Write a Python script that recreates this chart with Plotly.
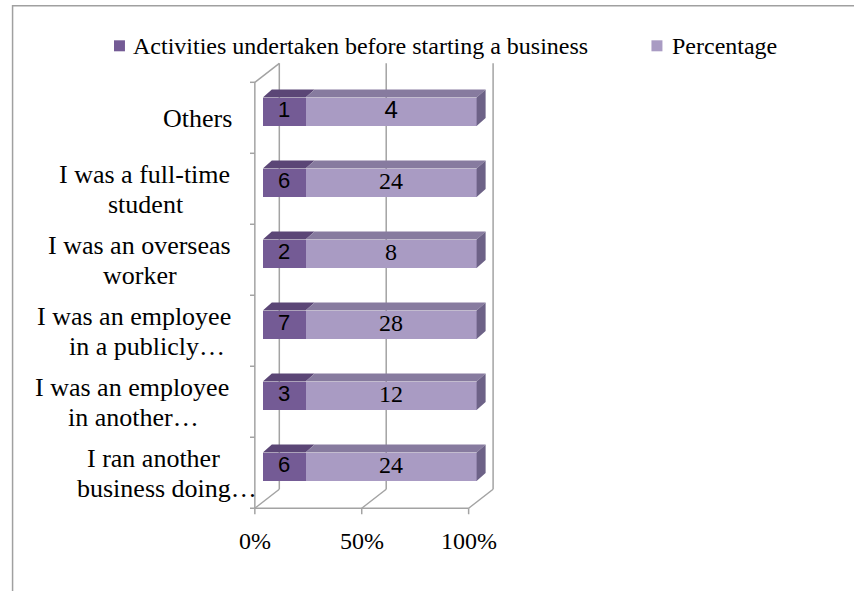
import plotly.graph_objects as go

# ---------------- data ----------------
category_lines = [
    ["Others"],
    ["I was a full-time", "student"],
    ["I was an overseas", "worker"],
    ["I was an employee", "in a publicly…"],
    ["I was an employee", "in another…"],
    ["I ran another", "business doing…"],
]
counts = [1, 6, 2, 7, 3, 6]
percentages = [4, 24, 8, 28, 12, 24]
series_names = ["Activities undertaken before starting a business", "Percentage"]
x_ticks = [0, 50, 100]
x_tick_labels = ["0%", "50%", "100%"]
light_label_fonts = ["Liberation Sans", "Liberation Serif", "Liberation Serif",
                     "Liberation Serif", "Liberation Serif", "Liberation Serif"]

# ---------------- geometry (layout only) ----------------
W, H = 854, 591
PXX = 2.14          # px per percent on bar plane
PXY = 71.0          # px per category
BAR0_PX = 263.0     # pixel x of 0% on bar plane
TOPC_PX = 111.5     # pixel y of top category centre on bar plane
XR = [-6, 110]
YR = [-0.75, 5.8]
L = BAR0_PX + XR[0] * PXX
PW = (XR[1] - XR[0]) * PXX
R = W - L - PW
T = TOPC_PX - (YR[1] - 5) * PXY
PH = (YR[1] - YR[0]) * PXY
B = H - T - PH

def dx(px):
    return px / PXX

def dy(px):
    return px / PXY

def pxp(px):
    return (px - L) / PW

def pyp(py):
    return 1 - (py - T) / PH

FX, FY = dx(-8), dy(-6)      # front plane offset
BX, BY = dx(16.5), dy(13)    # back plane offset
DX, DY = dx(9), dy(8)        # bar depth
HALF = 0.2                   # half bar thickness (categories)

GRID = "#A3A3A3"
DARK_FRONT, DARK_TOP = "#745B95", "#5B4676"
LIGHT_FRONT, LIGHT_TOP, LIGHT_SIDE = "#A99BC3", "#877B9F", "#6D6287"

n = len(counts)
ypos = [n - 1 - i for i in range(n)]
totals = [c + p for c, p in zip(counts, percentages)]
dark_share = [c / t * 100 for c, t in zip(counts, totals)]
light_share = [p / t * 100 for p, t in zip(percentages, totals)]

fig = go.Figure()

# front faces
fig.add_trace(go.Bar(orientation="h", y=ypos, x=dark_share, width=2 * HALF,
                     marker=dict(color=DARK_FRONT, line=dict(width=0)),
                     name=series_names[0], showlegend=False, hoverinfo="skip"))
fig.add_trace(go.Bar(orientation="h", y=ypos, x=light_share, width=2 * HALF,
                     marker=dict(color=LIGHT_FRONT, line=dict(width=0)),
                     name=series_names[1], showlegend=False, hoverinfo="skip"))

# 3D faces
def faces(kind):
    xs, ys = [], []
    for y, s in zip(ypos, dark_share):
        yt, yb = y + HALF, y - HALF
        if kind == "dark_top":
            pts = [(0, yt), (s, yt), (s + DX, yt + DY), (DX, yt + DY)]
        elif kind == "light_top":
            pts = [(s, yt), (100, yt), (100 + DX, yt + DY), (s + DX, yt + DY)]
        else:
            pts = [(100, yb), (100, yt), (100 + DX, yt + DY), (100 + DX, yb + DY)]
        for px_, py_ in pts + [pts[0]]:
            xs.append(px_)
            ys.append(py_)
        xs.append(None)
        ys.append(None)
    return xs, ys

for kind, col in [("dark_top", DARK_TOP), ("light_top", LIGHT_TOP), ("light_side", LIGHT_SIDE)]:
    xs, ys = faces(kind)
    fig.add_trace(go.Scatter(x=xs, y=ys, mode="lines", fill="toself", fillcolor=col,
                             line=dict(width=0, color=col), showlegend=False,
                             hoverinfo="skip"))

# data labels
fig.add_trace(go.Scatter(x=[s / 2 for s in dark_share], y=ypos, mode="text",
                         text=[str(c) for c in counts],
                         textfont=dict(family="Liberation Sans", size=22, color="#000000"),
                         showlegend=False, hoverinfo="skip", cliponaxis=False))
fig.add_trace(go.Scatter(x=[(s + 100) / 2 for s in dark_share], y=ypos, mode="text",
                         text=[str(p) for p in percentages],
                         textfont=dict(family=light_label_fonts, size=24, color="#000000"),
                         showlegend=False, hoverinfo="skip", cliponaxis=False))

shapes = []
def seg(x0, y0, x1, y1):
    shapes.append(dict(type="line", xref="x", yref="y", x0=x0, y0=y0, x1=x1, y1=y1,
                       line=dict(color=GRID, width=1.5), layer="below"))

ybot, ytop = -0.5, n - 0.5
# back wall gridlines
for v in x_ticks:
    seg(v + BX, ybot + BY, v + BX, ytop + BY)
# left wall
seg(FX, ybot + FY, FX, ytop + FY)
seg(FX, ytop + FY, BX, ytop + BY)
for k in range(n + 1):
    seg(FX - dx(8), k - 0.5 + FY, FX, k - 0.5 + FY)
# floor
seg(FX, ybot + FY, 100 + FX, ybot + FY)
for v in x_ticks:
    seg(v + FX, ybot + FY, v + FX, ybot + FY - dy(6))
    seg(v + FX, ybot + FY, v + BX, ybot + BY)

# chart border
shapes.append(dict(type="rect", xref="paper", yref="paper",
                   x0=pxp(12.5), y0=pyp(5.5), x1=pxp(W + 40), y1=pyp(H + 40),
                   line=dict(color="#A0A0A0", width=1.5), layer="below"))

# legend markers
for (x0, x1), col in [((114, 125), DARK_FRONT), ((652, 663), LIGHT_FRONT)]:
    shapes.append(dict(type="rect", xref="paper", yref="paper",
                       x0=pxp(x0), x1=pxp(x1), y0=pyp(40), y1=pyp(51),
                       fillcolor=col, line=dict(width=0)))

annotations = []
serif = "Liberation Serif"
# legend texts
for name, xpx in zip(series_names, [131, 671]):
    annotations.append(dict(xref="paper", yref="paper", x=pxp(xpx), y=pyp(45.5),
                            text=name, showarrow=False, xanchor="left", yanchor="middle",
                            font=dict(family=serif, size=24, color="#000000")))
# x tick labels
for v, lab in zip(x_ticks, x_tick_labels):
    annotations.append(dict(xref="x", yref="y", x=v + FX, y=ybot + FY, yshift=-33,
                            text=lab, showarrow=False, xanchor="center", yanchor="middle",
                            font=dict(family=serif, size=24, color="#000000")))
# category labels (wrapped, centred lines)
line_centres = [[197.5], [145, 146], [139.5, 140], [133.7, 146.7], [132.5, 133.5], [154, 167.5]]
for i, lines in enumerate(category_lines):
    cy = TOPC_PX + i * PXY + 6
    if len(lines) == 1:
        offs = [1]
    else:
        offs = [-14, 16]
    for text, xc, off in zip(lines, line_centres[i], offs):
        annotations.append(dict(xref="paper", yref="paper", x=pxp(xc), y=pyp(cy + off),
                                text=text, showarrow=False, xanchor="center",
                                yanchor="middle",
                                font=dict(family=serif, size=26, color="#000000")))

fig.update_layout(
    width=W, height=H,
    margin=dict(l=L, r=R, t=T, b=B, pad=0),
    paper_bgcolor="white", plot_bgcolor="white",
    barmode="stack", bargap=0,
    showlegend=False,
    xaxis=dict(range=XR, visible=False, fixedrange=True),
    yaxis=dict(range=YR, visible=False, fixedrange=True),
    shapes=shapes, annotations=annotations,
)

fig.write_html("out.html")
